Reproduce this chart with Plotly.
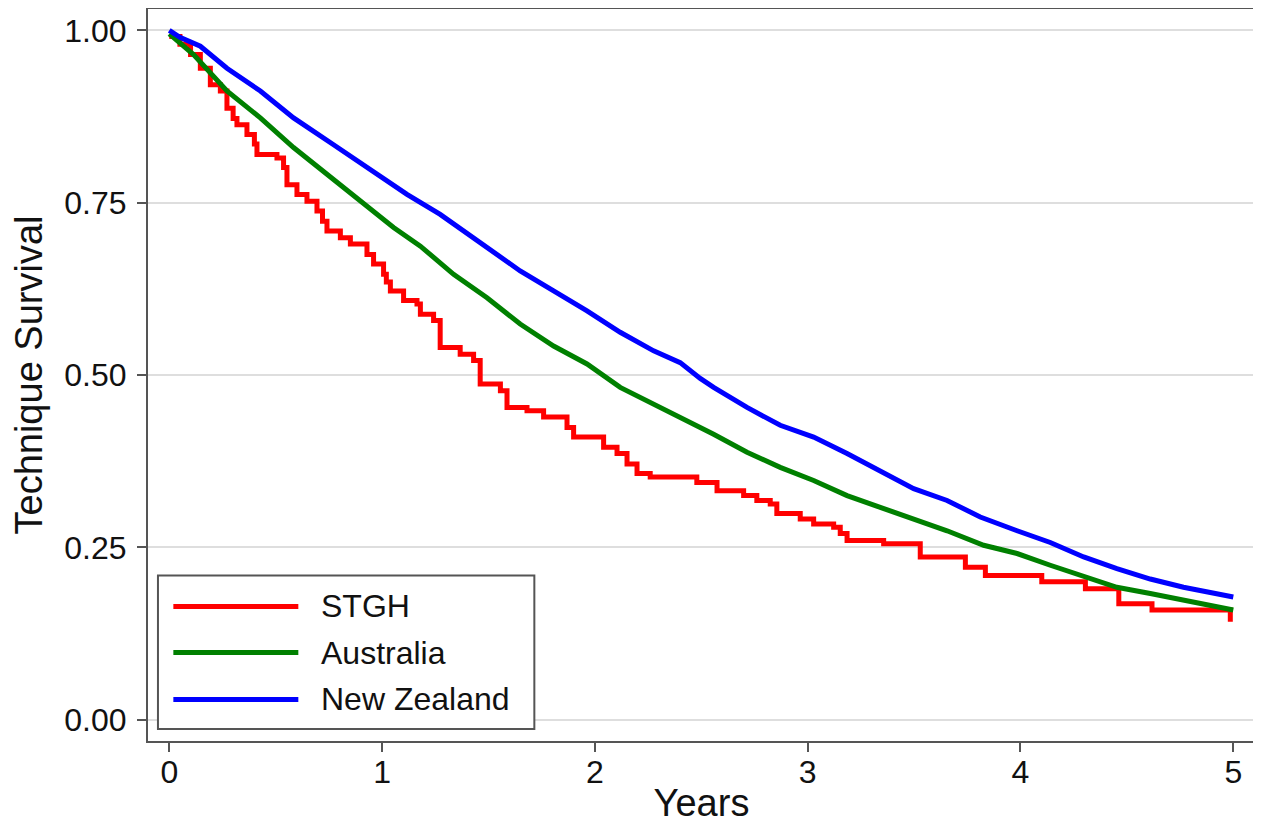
import plotly.graph_objects as go

# Kaplan-Meier technique survival
stgh_years = [0.000, 0.050, 0.100, 0.146, 0.193, 0.240, 0.271, 0.300, 0.318, 0.365,
              0.400, 0.412, 0.506, 0.537, 0.553, 0.600, 0.647, 0.694, 0.720, 0.741,
              0.804, 0.851, 0.929, 0.960, 1.007, 1.020, 1.039, 1.101, 1.164, 1.180,
              1.242, 1.273, 1.367, 1.430, 1.461, 1.556, 1.587, 1.681, 1.759, 1.869,
              1.900, 2.041, 2.104, 2.151, 2.198, 2.260, 2.479, 2.574, 2.699, 2.761,
              2.824, 2.855, 2.965, 3.028, 3.122, 3.153, 3.185, 3.357, 3.529, 3.741,
              3.835, 4.100, 4.305, 4.462, 4.618, 4.986]
stgh_surv = [0.991, 0.980, 0.965, 0.945, 0.921, 0.912, 0.887, 0.872, 0.863, 0.849,
             0.835, 0.820, 0.815, 0.801, 0.776, 0.762, 0.752, 0.738, 0.723, 0.709,
             0.699, 0.690, 0.675, 0.661, 0.646, 0.635, 0.622, 0.608, 0.603, 0.588,
             0.579, 0.540, 0.530, 0.521, 0.487, 0.477, 0.453, 0.448, 0.439, 0.424,
             0.410, 0.395, 0.386, 0.371, 0.357, 0.352, 0.344, 0.332, 0.325, 0.318,
             0.313, 0.299, 0.291, 0.284, 0.279, 0.270, 0.260, 0.255, 0.236, 0.221,
             0.209, 0.200, 0.190, 0.168, 0.159, 0.142]

aus_years = [0.000, 0.114, 0.271, 0.428, 0.584, 0.741, 0.898, 1.054, 1.180, 1.336,
             1.493, 1.649, 1.806, 1.963, 2.119, 2.276, 2.401, 2.558, 2.715, 2.871,
             3.028, 3.185, 3.341, 3.498, 3.655, 3.827, 3.984, 4.140, 4.297, 4.453,
             4.610, 4.766, 5.000]
aus_surv = [0.995, 0.965, 0.912, 0.873, 0.830, 0.791, 0.752, 0.714, 0.687, 0.646,
            0.612, 0.574, 0.542, 0.516, 0.482, 0.458, 0.439, 0.414, 0.388, 0.366,
            0.347, 0.325, 0.308, 0.291, 0.274, 0.253, 0.241, 0.224, 0.207, 0.192,
            0.183, 0.173, 0.159]

nz_years = [0.000, 0.050, 0.146, 0.271, 0.428, 0.584, 0.772, 0.929, 1.117, 1.273,
            1.336, 1.493, 1.649, 1.806, 1.963, 2.119, 2.276, 2.401, 2.495, 2.558,
            2.715, 2.871, 3.028, 3.185, 3.341, 3.498, 3.655, 3.811, 3.984, 4.140,
            4.297, 4.453, 4.610, 4.766, 5.000]
nz_surv = [1.000, 0.990, 0.977, 0.945, 0.912, 0.873, 0.834, 0.801, 0.762, 0.733,
           0.719, 0.685, 0.651, 0.622, 0.593, 0.562, 0.535, 0.518, 0.495, 0.482,
           0.453, 0.427, 0.410, 0.386, 0.361, 0.335, 0.318, 0.294, 0.274, 0.257,
           0.236, 0.219, 0.204, 0.192, 0.178]

y_ticks = [0, 0.25, 0.5, 0.75, 1.0]
y_ticklabels = ['0.00', '0.25', '0.50', '0.75', '1.00']
x_ticks = [0, 1, 2, 3, 4, 5]

series = [
    ('STGH', stgh_years, stgh_surv, '#ff0000', 'hv'),
    ('Australia', aus_years, aus_surv, '#008000', 'linear'),
    ('New Zealand', nz_years, nz_surv, '#0000ff', 'linear'),
]

FONT = 'Liberation Sans, Arial, sans-serif'
TXT = '#111111'
FRAME = '#555555'
FS = 32

fig = go.Figure()
for name, xs, ys, col, shape in series:
    fig.add_trace(go.Scatter(x=xs, y=ys, mode='lines', name=name,
                             line=dict(color=col, width=5, shape=shape),
                             showlegend=False))

# legend drawn by hand so the line samples are long like the original
fig.add_shape(type='rect', xref='paper', yref='paper',
              x0=0.009, x1=0.349, y0=0.0163, y1=0.226,
              line=dict(color=FRAME, width=2), fillcolor='white', layer='above')
leg_y = [0.1839, 0.1208, 0.0568]
for (name, xs, ys, col, shape), ly in zip(series, leg_y):
    fig.add_shape(type='line', xref='paper', yref='paper',
                  x0=0.0229, x1=0.1358, y0=ly, y1=ly,
                  line=dict(color=col, width=5), layer='above')
    fig.add_annotation(text=name, xref='paper', yref='paper', x=0.1547, y=ly,
                       xanchor='left', yanchor='middle', showarrow=False,
                       font=dict(family=FONT, size=FS, color=TXT))

# page body adds an 8px offset, so the figure is a bit smaller than the window
fig.update_layout(
    width=1253, height=816,
    margin=dict(l=140, r=6, t=1, b=83),
    paper_bgcolor='white', plot_bgcolor='white',
    font=dict(family=FONT, size=FS, color=TXT),
    showlegend=False,
)
fig.update_xaxes(
    range=[-0.100, 5.102], tickvals=x_ticks, ticks='outside', ticklen=9, tickwidth=2,
    tickcolor=FRAME, showgrid=False, zeroline=False, automargin=False,
    showline=True, linecolor=FRAME, linewidth=2, mirror=True,
    ticklabelstandoff=-7,
    title=dict(text='Years', standoff=16), tickfont=dict(size=FS),
)
fig.update_yaxes(
    range=[-0.031, 1.031], tickvals=y_ticks, ticktext=y_ticklabels, ticks='outside',
    ticklen=9, tickwidth=2, tickcolor=FRAME, automargin=False,
    showgrid=True, gridcolor='#dedede', gridwidth=2, zeroline=False,
    showline=True, linecolor=FRAME, linewidth=2, mirror=True,
    ticklabelstandoff=4,
    title=dict(text='Technique Survival', standoff=14), tickfont=dict(size=FS),
)

fig.write_html('out.html')
